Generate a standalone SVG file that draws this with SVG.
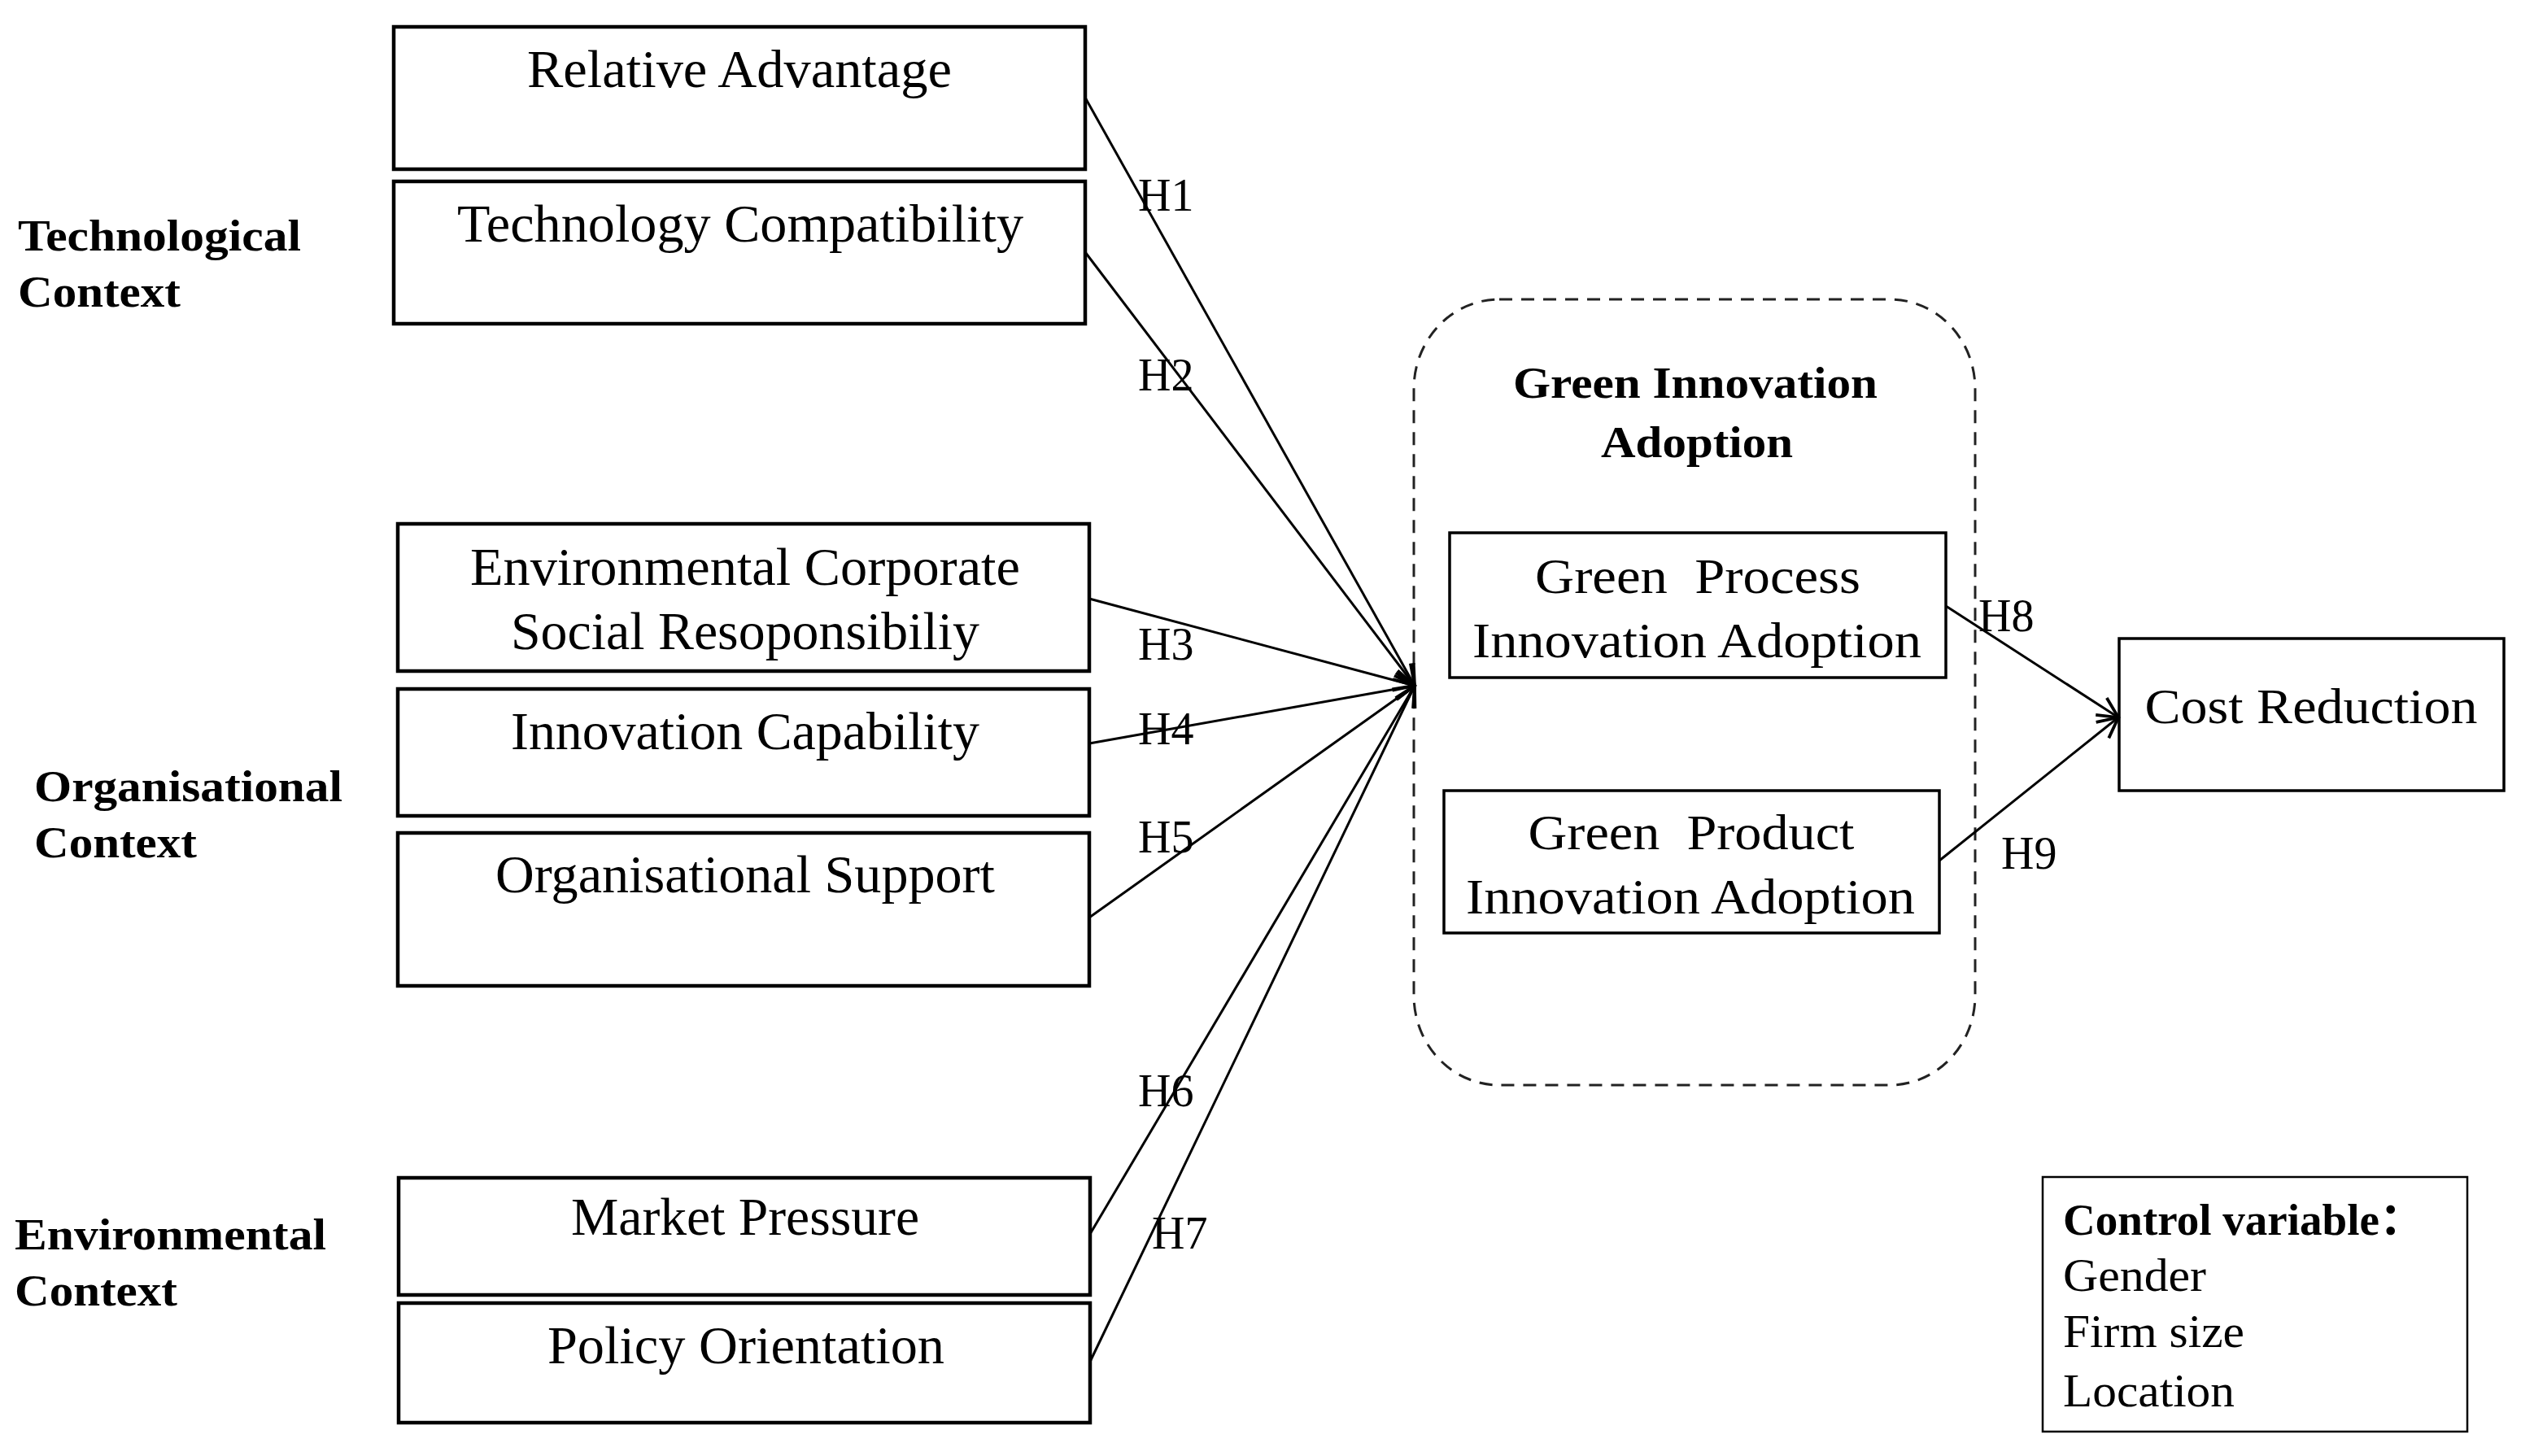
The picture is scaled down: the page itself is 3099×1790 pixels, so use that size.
<svg xmlns="http://www.w3.org/2000/svg" width="3099" height="1790" viewBox="0 0 3099 1790">
<style>
  .bg { fill: #ffffff; }
  .box { fill: #ffffff; stroke: #000; stroke-width: 4.5; }
  .ibox { fill: #ffffff; stroke: #000; stroke-width: 3.5; }
  .cbox { fill: #ffffff; stroke: #000; stroke-width: 2.5; }
  .group { fill: none; stroke: #222; stroke-width: 3; stroke-dasharray: 16 11; }
  .t { font-family: "Liberation Serif", "Times New Roman", serif; font-size: 66px; fill: #000; text-anchor: middle; }
  .tw { font-family: "Liberation Serif", "Times New Roman", serif; font-size: 62px; fill: #000; text-anchor: middle; }
  .b { font-family: "Liberation Serif", "Times New Roman", "Noto Sans CJK SC", serif; font-weight: bold; font-size: 54px; fill: #000; }
  .c { font-family: "Liberation Serif", "Times New Roman", serif; font-size: 56px; fill: #000; }
  .h { font-family: "Liberation Serif", "Times New Roman", serif; font-size: 56px; fill: #000; }
  .ln { fill: none; stroke: #000; stroke-width: 3; marker-end: url(#arr); }
</style>
<defs>
  <marker id="arr" markerUnits="userSpaceOnUse" markerWidth="30" markerHeight="30" viewBox="0 0 24 24" refX="22" refY="12" orient="auto">
    <path d="M2,2 L22,12 L2,22" fill="none" stroke="#000" stroke-width="3"/>
  </marker>
</defs>
<rect class="bg" x="0" y="0" width="3099" height="1790"/>

<g id="labels">
  <text class="b" x="22" y="308" textLength="348" lengthAdjust="spacingAndGlyphs">Technological</text>
  <text class="b" x="22" y="377" textLength="200" lengthAdjust="spacingAndGlyphs">Context</text>
  <text class="b" x="42" y="985" textLength="379" lengthAdjust="spacingAndGlyphs">Organisational</text>
  <text class="b" x="42" y="1054" textLength="200" lengthAdjust="spacingAndGlyphs">Context</text>
  <text class="b" x="18" y="1536" textLength="383" lengthAdjust="spacingAndGlyphs">Environmental</text>
  <text class="b" x="18" y="1605" textLength="200" lengthAdjust="spacingAndGlyphs">Context</text>
</g>

<g id="relative-advantage">
  <rect class="box" x="484" y="33" width="850" height="175"/>
  <text class="t" x="909" y="107" textLength="522" lengthAdjust="spacingAndGlyphs">Relative Advantage</text>
</g>
<g id="technology-compatibility">
  <rect class="box" x="484" y="223" width="850" height="175"/>
  <text class="t" x="910" y="297" textLength="696" lengthAdjust="spacingAndGlyphs">Technology Compatibility</text>
</g>
<g id="environmental-csr">
  <rect class="box" x="489" y="644" width="850" height="181"/>
  <text class="t" x="916" y="719" textLength="676" lengthAdjust="spacingAndGlyphs">Environmental Corporate</text>
  <text class="t" x="916" y="798" textLength="576" lengthAdjust="spacingAndGlyphs">Social Resoponsibiliy</text>
</g>
<g id="innovation-capability">
  <rect class="box" x="489" y="847" width="850" height="156"/>
  <text class="t" x="916" y="921" textLength="576" lengthAdjust="spacingAndGlyphs">Innovation Capability</text>
</g>
<g id="organisational-support">
  <rect class="box" x="489" y="1024" width="850" height="188"/>
  <text class="t" x="916" y="1097" textLength="614" lengthAdjust="spacingAndGlyphs">Organisational Support</text>
</g>
<g id="market-pressure">
  <rect class="box" x="490" y="1448" width="850" height="144"/>
  <text class="t" x="916" y="1518" textLength="428" lengthAdjust="spacingAndGlyphs">Market Pressure</text>
</g>
<g id="policy-orientation">
  <rect class="box" x="490" y="1602" width="850" height="147"/>
  <text class="t" x="917" y="1676" textLength="488" lengthAdjust="spacingAndGlyphs">Policy Orientation</text>
</g>

<g id="green-innovation-adoption">
  <rect class="group" x="1738" y="368" width="690" height="966" rx="105" ry="110"/>
  <text class="b" x="2084" y="489" text-anchor="middle" textLength="448" lengthAdjust="spacingAndGlyphs">Green Innovation</text>
  <text class="b" x="2086" y="562" text-anchor="middle" textLength="236" lengthAdjust="spacingAndGlyphs">Adoption</text>
</g>
<g id="green-process">
  <rect class="ibox" x="1782" y="655" width="610" height="178"/>
  <text class="tw" x="2087" y="729" textLength="400" lengthAdjust="spacingAndGlyphs" xml:space="preserve">Green  Process</text>
  <text class="tw" x="2086" y="808" textLength="552" lengthAdjust="spacingAndGlyphs">Innovation Adoption</text>
</g>
<g id="green-product">
  <rect class="ibox" x="1775" y="972" width="609" height="175"/>
  <text class="tw" x="2079" y="1044" textLength="401" lengthAdjust="spacingAndGlyphs" xml:space="preserve">Green  Product</text>
  <text class="tw" x="2078" y="1123" textLength="552" lengthAdjust="spacingAndGlyphs">Innovation Adoption</text>
</g>
<g id="cost-reduction">
  <rect class="ibox" x="2605" y="785" width="473" height="187"/>
  <text class="tw" x="2841" y="889" font-size="64" textLength="409" lengthAdjust="spacingAndGlyphs">Cost Reduction</text>
</g>
<g id="control-variable">
  <rect class="cbox" x="2511" y="1447" width="522" height="313"/>
  <text class="b" x="2536" y="1518" font-size="56" textLength="444" lengthAdjust="spacingAndGlyphs">Control variable：</text>
  <text class="c" x="2536" y="1587" textLength="176" lengthAdjust="spacingAndGlyphs">Gender</text>
  <text class="c" x="2536" y="1656" textLength="223" lengthAdjust="spacingAndGlyphs">Firm size</text>
  <text class="c" x="2536" y="1729" textLength="211" lengthAdjust="spacingAndGlyphs">Location</text>
</g>

<g id="connectors">
  <line class="ln" x1="1334" y1="120" x2="1739" y2="843"/>
  <line class="ln" x1="1334" y1="310" x2="1739" y2="843"/>
  <line class="ln" x1="1339" y1="736" x2="1739" y2="843"/>
  <line class="ln" x1="1339" y1="914" x2="1739" y2="843"/>
  <line class="ln" x1="1339" y1="1128" x2="1739" y2="843"/>
  <line class="ln" x1="1340" y1="1517" x2="1739" y2="843"/>
  <line class="ln" x1="1340" y1="1674" x2="1739" y2="843"/>
  <line class="ln" x1="2392" y1="745" x2="2604" y2="882"/>
  <line class="ln" x1="2384" y1="1058" x2="2604" y2="882"/>
  <text class="h" x="1399" y="259">H1</text>
  <text class="h" x="1399" y="480">H2</text>
  <text class="h" x="1399" y="811">H3</text>
  <text class="h" x="1399" y="915">H4</text>
  <text class="h" x="1399" y="1048">H5</text>
  <text class="h" x="1399" y="1360">H6</text>
  <text class="h" x="1416" y="1535">H7</text>
  <text class="h" x="2432" y="776">H8</text>
  <text class="h" x="2460" y="1068">H9</text>
</g>
</svg>
